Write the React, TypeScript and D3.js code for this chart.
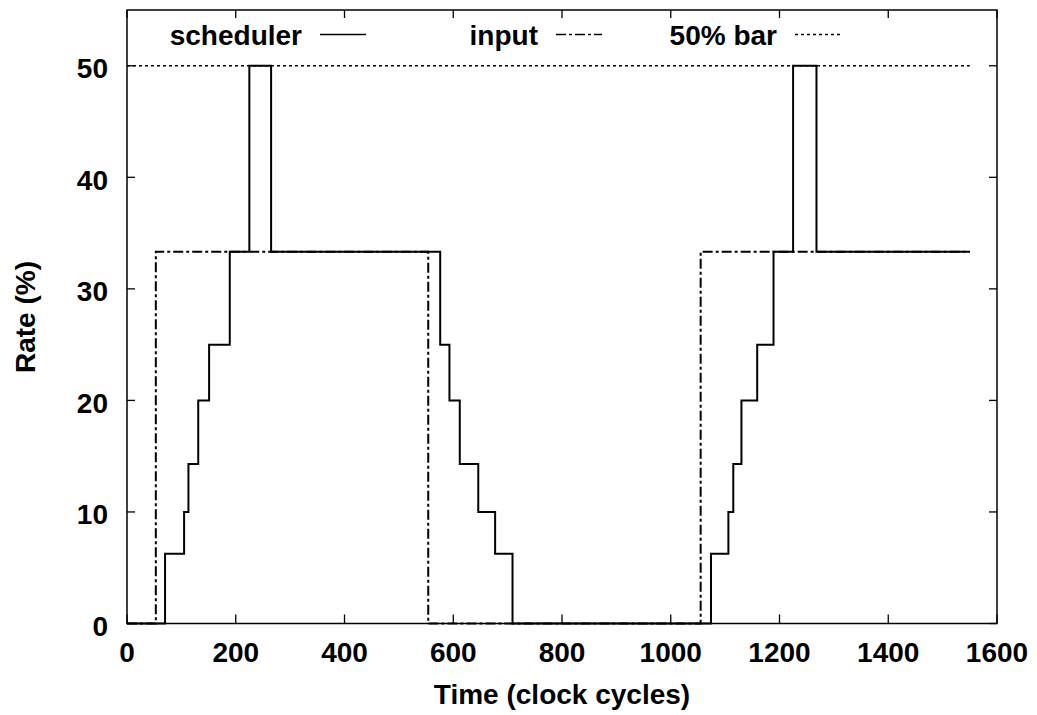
import React from "react";
import * as d3 from "d3";

// ---- data ----
const xTicks = [0, 200, 400, 600, 800, 1000, 1200, 1400, 1600];
const yTicks = [0, 10, 20, 30, 40, 50];

// scheduler rate (step-after): [time, rate]
const schedulerTime = [0, 70, 105, 113, 131, 151, 189, 225, 265, 576, 593, 612, 646, 677, 709, 1074, 1106, 1115, 1130, 1159, 1189, 1225, 1268, 1550];
const schedulerRate = [0, 6.25, 10, 14.29, 20, 25, 33.33, 50, 33.33, 25, 20, 14.29, 10, 6.25, 0, 6.25, 10, 14.29, 20, 25, 33.33, 50, 33.33, 33.33];

// input rate (step-after)
const inputTime = [0, 53, 554, 1055, 1550];
const inputRate = [0, 33.33, 0, 33.33, 33.33];

// 50% bar
const barTime = [0, 1550];
const barRate = [50, 50];

const legendItems = ["scheduler", "input", "50% bar"];
const legendDash = ["none", "10,3,3,3", "3,3"];

const W = 1037;
const H = 715;
const margin = { left: 127, right: 40, top: 10, bottom: 91.5 };
const FONT = "'Liberation Sans', Arial, Helvetica, sans-serif";

export default function App() {
  const x = d3.scaleLinear().domain([0, 1600]).range([margin.left, W - margin.right]);
  const y = d3.scaleLinear().domain([0, 55]).range([H - margin.bottom, margin.top]);

  const stepLine = d3
    .line<[number, number]>()
    .x((d) => x(d[0]))
    .y((d) => y(d[1]))
    .curve(d3.curveStepAfter);

  const sched = schedulerTime.map((t, i) => [t, schedulerRate[i]] as [number, number]);
  const inp = inputTime.map((t, i) => [t, inputRate[i]] as [number, number]);
  const bar = barTime.map((t, i) => [t, barRate[i]] as [number, number]);

  const x0 = x(0), x1 = x(1600), y0 = y(0), y1 = y(55);
  const legendRight = [302, 538, 777];

  return (
    <svg
      width={W}
      height={H}
      style={{ position: "absolute", left: 0, top: 0, background: "#fff" }}
      fontFamily={FONT}
      fontWeight="bold"
    >
      <rect x={0} y={0} width={W} height={H} fill="#fff" />
      {/* ticks */}
      {xTicks.map((t) => (
        <g key={"xt" + t}>
          <line x1={x(t)} x2={x(t)} y1={y0} y2={y0 - 9} stroke="#000" strokeWidth={1.3} />
          <line x1={x(t)} x2={x(t)} y1={y1} y2={y1 + 8} stroke="#000" strokeWidth={1.3} />
          <text x={x(t)} y={662} fontSize={28} textAnchor="middle">
            {t}
          </text>
        </g>
      ))}
      {yTicks.map((t) => (
        <g key={"yt" + t}>
          <line x1={x0} x2={x0 + 8} y1={y(t)} y2={y(t)} stroke="#000" strokeWidth={1.3} />
          <line x1={x1} x2={x1 - 8} y1={y(t)} y2={y(t)} stroke="#000" strokeWidth={1.3} />
          <text x={108} y={y(t) + 12.5} fontSize={28} textAnchor="end">
            {t}
          </text>
        </g>
      ))}

      {/* series */}
      <path d={stepLine(bar) || ""} fill="none" stroke="#000" strokeWidth={1.3} strokeDasharray="3,3" />
      <path d={stepLine(inp) || ""} fill="none" stroke="#000" strokeWidth={2} strokeDasharray="10,3,3,3" />
      <path d={stepLine(sched) || ""} fill="none" stroke="#000" strokeWidth={2} />

      {/* frame */}
      <rect x={x0} y={y1} width={x1 - x0} height={y0 - y1} fill="none" stroke="#000" strokeWidth={1.5} />

      {/* legend */}
      {legendItems.map((name, i) => (
        <g key={name}>
          <text x={legendRight[i]} y={45} fontSize={28} textAnchor="end">
            {name}
          </text>
          <line
            x1={legendRight[i] + 18}
            x2={legendRight[i] + 64}
            y1={34.5}
            y2={34.5}
            stroke="#000"
            strokeWidth={i === 0 ? 1.6 : 1.3}
            strokeDasharray={legendDash[i]}
          />
        </g>
      ))}

      {/* axis labels */}
      <text x={(x0 + x1) / 2} y={703.5} fontSize={28} textAnchor="middle">
        Time (clock cycles)
      </text>
      <text transform={`translate(35,317) rotate(-90)`} fontSize={28} textAnchor="middle">
        Rate (%)
      </text>
    </svg>
  );
}
